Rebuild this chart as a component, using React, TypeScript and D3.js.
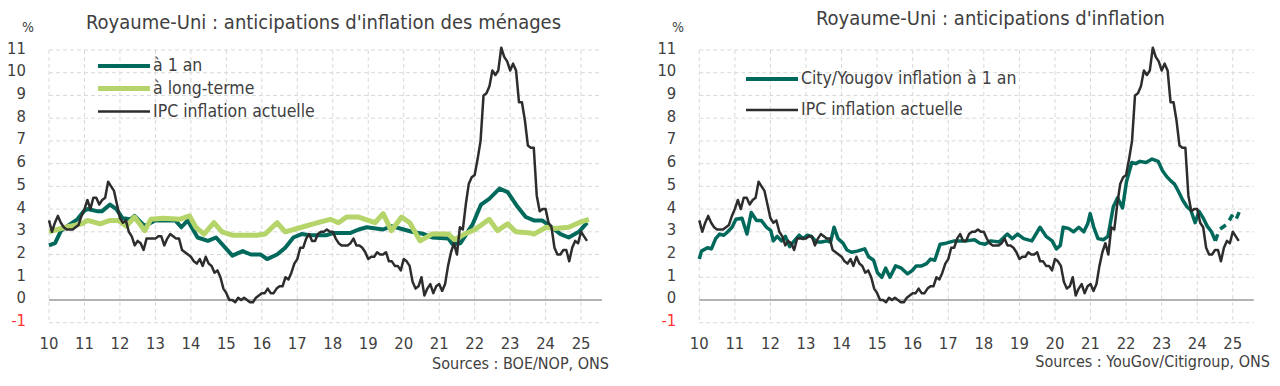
import React from 'react';
import * as d3 from 'd3';

// UK CPI y/y, monthly from Jan 2010
const CPI_MONTHLY = [
  3.5, 3.0, 3.4, 3.7, 3.4, 3.2, 3.1, 3.1, 3.1, 3.2, 3.3, 3.7,
  4.0, 4.4, 4.0, 4.5, 4.5, 4.2, 4.4, 4.5, 5.2, 5.0, 4.8, 4.2,
  3.6, 3.4, 3.5, 3.0, 2.8, 2.4, 2.6, 2.5, 2.2, 2.7, 2.7, 2.7,
  2.7, 2.8, 2.8, 2.4, 2.7, 2.9, 2.8, 2.7, 2.7, 2.2, 2.1, 2.0,
  1.9, 1.7, 1.6, 1.8, 1.5, 1.9, 1.6, 1.5, 1.2, 1.3, 1.0, 0.5,
  0.3, 0.0, 0.0, -0.1, 0.1, 0.0, 0.1, 0.0, -0.1, -0.1, 0.1, 0.2,
  0.3, 0.3, 0.5, 0.3, 0.3, 0.5, 0.6, 0.6, 1.0, 0.9, 1.2, 1.6,
  1.8, 2.3, 2.3, 2.7, 2.9, 2.6, 2.6, 2.9, 3.0, 3.0, 3.1, 3.0,
  3.0, 2.7, 2.5, 2.4, 2.4, 2.4, 2.5, 2.7, 2.4, 2.4, 2.3, 2.1,
  1.8, 1.9, 1.9, 2.1, 2.0, 2.0, 2.1, 1.7, 1.7, 1.5, 1.5, 1.3,
  1.8, 1.7, 1.5, 0.8, 0.5, 0.6, 1.0, 0.2, 0.5, 0.7, 0.3, 0.6,
  0.7, 0.4, 0.7, 1.5, 2.1, 2.5, 2.0, 3.2, 3.1, 4.2, 5.1, 5.4,
  5.5, 6.2, 7.0, 9.0, 9.1, 9.4, 10.1, 9.9, 10.1, 11.1, 10.7, 10.5,
  10.1, 10.4, 10.1, 8.7, 8.7, 7.9, 6.8, 6.7, 6.7, 4.6, 3.9, 4.0,
  4.0, 3.4, 3.2, 2.3, 2.0, 2.0, 2.2, 2.2, 1.7, 2.3, 2.6, 2.5,
  3.0, 2.8, 2.6,
];

// BoE/NOP household expectations, 1 year ahead [year, %]
const NOP_ONE_YEAR: [number, number][] = [
  [10.0, 2.4], [10.17, 2.5], [10.34, 3.05], [10.57, 3.3], [10.8, 3.55], [10.98, 3.9],
  [11.09, 4.0], [11.38, 3.9], [11.49, 3.9], [11.72, 4.2], [11.9, 4.0], [12.07, 3.6],
  [12.3, 3.55], [12.41, 3.7], [12.7, 3.25], [12.99, 3.5], [13.56, 3.5], [13.73, 3.2],
  [13.91, 3.5], [14.19, 2.75], [14.48, 2.6], [14.71, 2.75], [15.17, 1.95], [15.46, 2.15],
  [15.69, 2.0], [15.97, 2.0], [16.15, 1.8], [16.43, 2.0], [16.66, 2.3], [16.89, 2.75],
  [17.12, 2.9], [17.35, 2.85], [17.81, 2.85], [18.04, 2.95], [18.5, 2.95], [18.73, 3.1],
  [18.96, 3.2], [19.42, 3.1], [19.65, 3.25], [20.0, 3.1], [20.23, 3.0], [20.57, 2.9],
  [20.8, 2.75], [21.26, 2.7], [21.38, 2.45], [21.6, 2.5], [21.95, 3.35], [22.18, 4.2],
  [22.41, 4.45], [22.7, 4.9], [22.93, 4.75], [23.21, 4.1], [23.44, 3.65], [23.67, 3.5],
  [23.9, 3.5], [24.13, 3.25], [24.42, 2.9], [24.65, 2.75], [24.94, 3.0], [25.17, 3.4],
];

// BoE/NOP household expectations, long term [year, %]
const NOP_LONG_TERM: [number, number][] = [
  [10.0, 3.0], [10.46, 3.2], [10.92, 3.35], [11.09, 3.5], [11.44, 3.35], [11.72, 3.5],
  [11.95, 3.5], [12.18, 3.25], [12.41, 3.65], [12.7, 3.05], [12.87, 3.55], [13.22, 3.6],
  [13.68, 3.55], [13.96, 3.7], [14.14, 3.2], [14.37, 2.9], [14.65, 3.4], [14.88, 3.0],
  [15.17, 2.85], [15.86, 2.85], [16.09, 2.9], [16.43, 3.4], [16.66, 3.0], [17.12, 3.2],
  [17.58, 3.4], [17.93, 3.55], [18.16, 3.4], [18.39, 3.65], [18.73, 3.65], [19.19, 3.4],
  [19.42, 3.8], [19.65, 3.05], [19.94, 3.65], [20.17, 3.4], [20.46, 2.6], [20.8, 2.9],
  [21.26, 2.9], [21.43, 2.65], [21.72, 2.9], [22.01, 3.1], [22.41, 3.55], [22.64, 3.05],
  [22.93, 3.35], [23.16, 3.0], [23.56, 2.95], [23.67, 2.9], [24.02, 3.2], [24.25, 3.15],
  [24.65, 3.2], [24.94, 3.4], [25.22, 3.55],
];

// City/YouGov 1 year ahead [year, %]
const YOUGOV_ONE_YEAR: [number, number][] = [
  [10.0, 1.8], [10.06, 2.15], [10.23, 2.3], [10.34, 2.25], [10.46, 2.7], [10.57, 2.9],
  [10.69, 2.85], [10.8, 3.0], [10.92, 3.2], [11.03, 3.55], [11.2, 3.6], [11.34, 2.9],
  [11.46, 3.85], [11.61, 3.5], [11.74, 3.5], [11.89, 3.2], [12.01, 3.05], [12.08, 2.6],
  [12.19, 2.8], [12.31, 2.6], [12.42, 2.8], [12.54, 2.35], [12.67, 2.6], [12.81, 2.85],
  [12.92, 2.7], [13.04, 2.85], [13.15, 2.8], [13.29, 2.55], [13.44, 2.55], [13.58, 2.6],
  [13.69, 2.55], [13.79, 3.2], [13.9, 2.7], [14.04, 2.5], [14.15, 2.2], [14.28, 2.1],
  [14.44, 2.15], [14.65, 2.25], [14.76, 1.9], [14.9, 1.75], [15.01, 1.2], [15.13, 1.0],
  [15.24, 1.4], [15.36, 1.0], [15.52, 1.5], [15.68, 1.4], [15.85, 1.15], [15.99, 1.3],
  [16.1, 1.5], [16.25, 1.5], [16.39, 1.6], [16.5, 1.8], [16.62, 1.75], [16.77, 2.45],
  [16.94, 2.5], [17.17, 2.6], [17.51, 2.6], [17.74, 2.65], [17.88, 2.5], [18.03, 2.45],
  [18.2, 2.6], [18.43, 2.55], [18.66, 2.9], [18.8, 2.7], [18.95, 2.9], [19.12, 2.7],
  [19.35, 2.6], [19.58, 3.2], [19.75, 2.8], [19.92, 2.6], [20.04, 2.25], [20.15, 2.4],
  [20.23, 3.2], [20.38, 3.15], [20.52, 3.0], [20.67, 3.2], [20.81, 3.0], [20.92, 3.35],
  [20.99, 3.8], [21.09, 3.2], [21.21, 2.7], [21.36, 2.65], [21.49, 2.8], [21.64, 4.1],
  [21.76, 4.5], [21.9, 4.05], [22.01, 5.2], [22.16, 6.05], [22.27, 6.0], [22.39, 6.1],
  [22.56, 6.05], [22.73, 6.2], [22.9, 6.1], [23.02, 5.7], [23.13, 5.45], [23.25, 5.25],
  [23.36, 5.1], [23.48, 4.75], [23.59, 4.4], [23.71, 4.1], [23.82, 3.95], [23.94, 3.4],
  [24.05, 3.9], [24.17, 3.6], [24.28, 3.25], [24.4, 3.0], [24.51, 2.6],
];
// sparse latest readings, drawn dashed
const YOUGOV_LATEST: [number, number][] = [
  [24.51, 2.6], [24.62, 3.1], [24.85, 3.35], [24.97, 3.7], [25.08, 3.5], [25.2, 3.95],
];

const YEAR_TICKS = d3.range(10, 26);
const VALUE_TICKS = d3.range(-1, 12);
const X_DOMAIN: [number, number] = [10, 25.59];
const Y_DOMAIN: [number, number] = [-1, 11];

const TEAL = '#00695c';
const LIGHT_GREEN = '#b5d46a';
const CPI_COLOR = '#2d2d2d';
const GRID = '#d9d9d9';
const TEXT = '#404040';
const FONT = '"Liberation Sans Narrow", "DejaVu Sans Condensed", "Roboto", sans-serif';

const cpiPoints: [number, number][] = CPI_MONTHLY.map((v, i) => [10 + i / 12, v]);

interface Series {
  points: [number, number][];
  color: string;
  width: number;
  dash?: string;
}

interface LegendItem {
  label: string;
  color: string;
  width: number;
}

interface PanelProps {
  left: number;
  right: number;
  title: string;
  titleX: number;
  titleY: number;
  percentX: number;
  series: Series[];
  legend: LegendItem[];
  legendX: number;
  legendY: number[];
  source: string;
  sourceX: number;
  sourceY: number;
}

function Panel(p: PanelProps) {
  const x = d3.scaleLinear().domain(X_DOMAIN).range([p.left, p.right]);
  const y = d3.scaleLinear().domain(Y_DOMAIN).range([322.7, 50]);
  const line = d3
    .line<[number, number]>()
    .x((d) => x(d[0]))
    .y((d) => y(d[1]))
    .curve(d3.curveLinear);

  return (
    <g fontFamily={FONT}>
      {/* grid */}
      {VALUE_TICKS.filter((v) => v !== 0).map((v) => (
        <line key={'h' + v} x1={p.left} x2={p.right} y1={y(v)} y2={y(v)}
          stroke={GRID} strokeWidth={1} strokeDasharray="4,3" />
      ))}
      {YEAR_TICKS.map((t) => (
        <line key={'v' + t} x1={x(t)} x2={x(t)} y1={y(11)} y2={y(-1)}
          stroke={GRID} strokeWidth={1} strokeDasharray="4,3" />
      ))}
      <line x1={p.left} x2={p.right} y1={y(0)} y2={y(0)} stroke="#9a9a9a" strokeWidth={1.5} />

      {/* axis labels */}
      {VALUE_TICKS.map((v) => (
        <text key={'yl' + v} x={p.left - 23} y={y(v) + 3.5} textAnchor="end"
          fontSize={16.5} fill={v < 0 ? '#ff3333' : TEXT}>{v}</text>
      ))}
      {YEAR_TICKS.map((t) => (
        <text key={'xl' + t} x={x(t)} y={348.5} textAnchor="middle" fontSize={16.5} fill={TEXT}>{t}</text>
      ))}
      <text x={p.percentX} y={32} fontSize={14} fill={TEXT}>%</text>

      {/* series */}
      {p.series.map((s, i) => (
        <path key={'s' + i} d={line(s.points) ?? ''} fill="none" stroke={s.color}
          strokeWidth={s.width} strokeDasharray={s.dash} strokeLinejoin="round" />
      ))}

      {/* legend */}
      {p.legend.map((l, i) => (
        <g key={'lg' + i}>
          <line x1={p.legendX} x2={p.legendX + 52} y1={p.legendY[i]} y2={p.legendY[i]}
            stroke={l.color} strokeWidth={l.width} />
          <text x={p.legendX + 55} y={p.legendY[i] + 5} fontSize={17.5} fill={TEXT}>{l.label}</text>
        </g>
      ))}

      <text x={p.titleX} y={p.titleY} fontSize={20} fill={TEXT}>{p.title}</text>
      <text x={p.sourceX} y={p.sourceY} textAnchor="end" fontSize={16} fill={TEXT}>{p.source}</text>
    </g>
  );
}

export default function App() {
  return (
    <svg width={1280} height={386} viewBox="0 0 1280 386"
      style={{ position: 'absolute', left: 0, top: 0, background: '#fff' }}>
      <rect width={1280} height={386} fill="#fff" />
      <Panel
        left={49}
        right={602}
        title="Royaume-Uni : anticipations d'inflation des ménages"
        titleX={86}
        titleY={29}
        percentX={22}
        series={[
          { points: NOP_ONE_YEAR, color: TEAL, width: 4 },
          { points: NOP_LONG_TERM, color: LIGHT_GREEN, width: 5 },
          { points: cpiPoints, color: CPI_COLOR, width: 2.5 },
        ]}
        legend={[
          { label: 'à 1 an', color: TEAL, width: 4 },
          { label: 'à long-terme', color: LIGHT_GREEN, width: 5 },
          { label: 'IPC inflation actuelle', color: CPI_COLOR, width: 2.5 },
        ]}
        legendX={98}
        legendY={[66, 88.5, 111.5]}
        source="Sources : BOE/NOP, ONS"
        sourceX={609}
        sourceY={369}
      />
      <Panel
        left={699.3}
        right={1253.8}
        title="Royaume-Uni : anticipations d'inflation"
        titleX={816}
        titleY={25}
        percentX={672}
        series={[
          { points: YOUGOV_ONE_YEAR, color: TEAL, width: 3.5 },
          { points: YOUGOV_LATEST, color: TEAL, width: 3.5, dash: '7,6' },
          { points: cpiPoints, color: CPI_COLOR, width: 2.5 },
        ]}
        legend={[
          { label: 'City/Yougov inflation à 1 an', color: TEAL, width: 4 },
          { label: 'IPC inflation actuelle', color: CPI_COLOR, width: 2.5 },
        ]}
        legendX={746}
        legendY={[79, 110]}
        source="Sources : YouGov/Citigroup, ONS"
        sourceX={1270}
        sourceY={367}
      />
    </svg>
  );
}
